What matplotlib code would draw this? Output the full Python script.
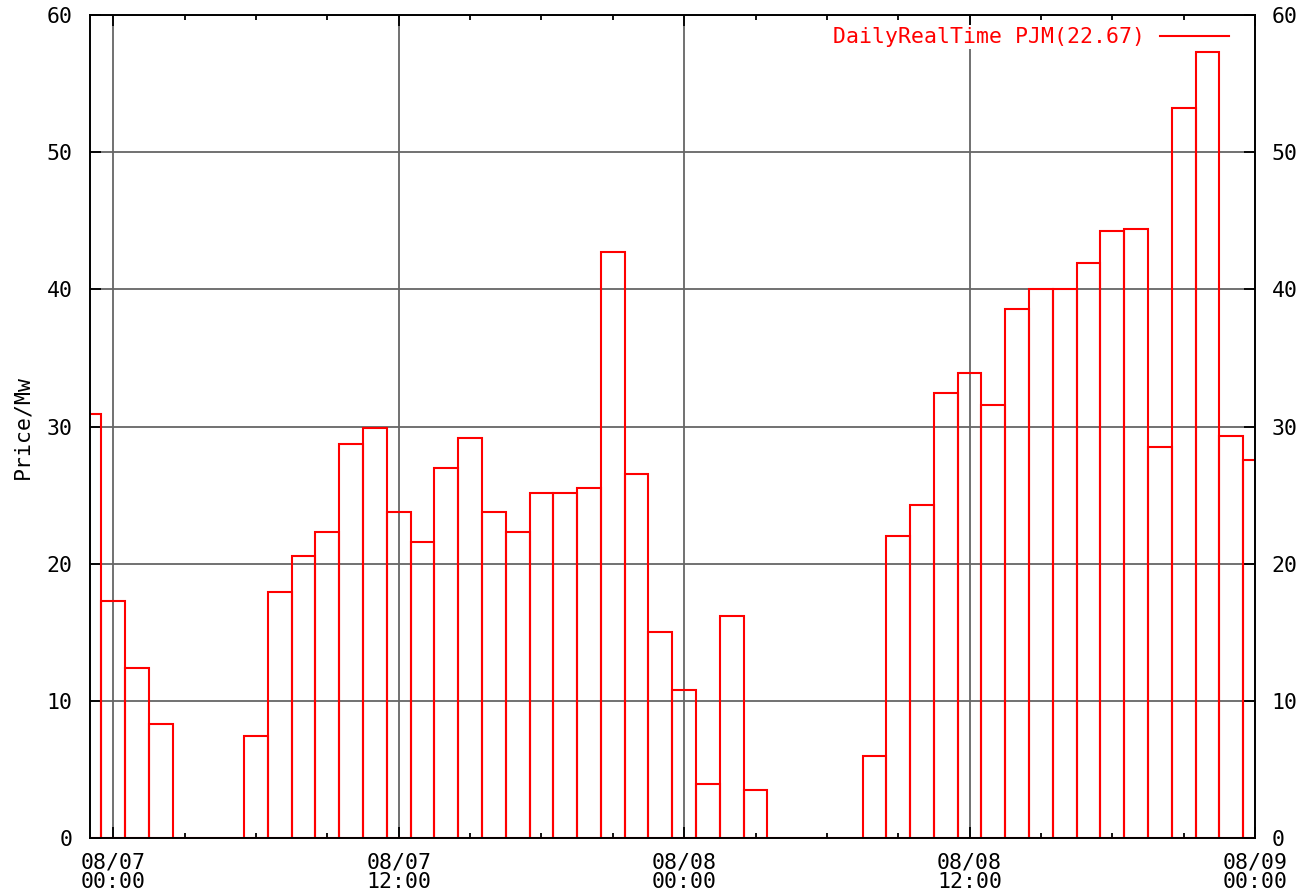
import matplotlib
matplotlib.use("Agg")
import matplotlib.pyplot as plt
from matplotlib.lines import Line2D
import numpy as np

# hours relative to 08/07 00:00
hours = list(range(-1, 49))
prices = [30.9, 17.33, 12.38, 8.30, 0, 0, 0, 7.43, 17.93, 20.55,
          22.3, 28.72, 29.9, 23.76, 21.57, 26.97, 29.15, 23.76, 22.3, 25.19,
          25.19, 25.5, 42.7, 26.53, 15.0, 10.8, 3.95, 16.19, 3.5, 0,
          0, 0, 0, 6.0, 22.04, 24.26, 32.43, 33.92, 31.57, 38.56,
          40.0, 40.0, 41.93, 44.26, 44.41, 28.49, 53.19, 57.31, 29.35, 27.6]

major_hours = [0, 12, 24, 36, 48]
major_labels = ["08/07\n00:00", "08/07\n12:00", "08/08\n00:00", "08/08\n12:00", "08/09\n00:00"]
minor_hours = list(range(0, 49, 3))
y_ticks = [0, 10, 20, 30, 40, 50, 60]
legend_label = "DailyRealTime PJM(22.67)"

plt.rcParams['font.family'] = ['DejaVu Sans Mono']
fs = 15.5

W, H = 1300, 894
fig = plt.figure(figsize=(W / 100, H / 100), dpi=100)
x0, x1, y0, y1 = 89.5, 1255, 15, 838.3
ax = fig.add_axes([x0 / W, (H - y1) / H, (x1 - x0) / W, (y1 - y0) / H])

ax.bar(hours, prices, width=1.0, fill=False, edgecolor='red', linewidth=1.5, zorder=3)

ax.set_xlim(-1, 48)
ax.set_ylim(0, 60)

ax.set_xticks(major_hours)
ax.set_xticklabels(major_labels)
ax.set_xticks(minor_hours, minor=True)
ax.set_yticks(y_ticks)

ax.grid(True, which='major', color='#666666', linewidth=1.3)
ax.set_axisbelow(True)

ax.tick_params(which='both', direction='in', top=True, right=True, labelright=True,
               labelsize=fs, width=1.3, color='black')
ax.tick_params(which='major', length=8)
ax.tick_params(which='minor', length=3.5)
ax.tick_params(axis='x', pad=10)
ax.tick_params(axis='y', which='major', pad=12)
for lbl in ax.get_xticklabels():
    lbl.set_linespacing(1.0)

for s in ax.spines.values():
    s.set_linewidth(1.4)
    s.set_color('black')
    s.set_zorder(6)

ax.set_ylabel("Price/Mw", fontsize=fs, va='center')
ax.yaxis.set_label_coords((22 - x0) / (x1 - x0), 0.5)

handle = Line2D([], [], color='red', linewidth=1.5)
leg = ax.legend([handle], [legend_label], loc='upper right', markerfirst=False,
                bbox_to_anchor=(0.983, 0.993), fontsize=fs, handlelength=3.2,
                handletextpad=0.7, frameon=True, fancybox=False, framealpha=1,
                borderpad=0.1, borderaxespad=0.2)
leg.get_frame().set_edgecolor('none')
leg.get_frame().set_facecolor('white')
leg.set_zorder(2)
for t in leg.get_texts():
    t.set_color('red')

fig.savefig("out.png", dpi=100)
